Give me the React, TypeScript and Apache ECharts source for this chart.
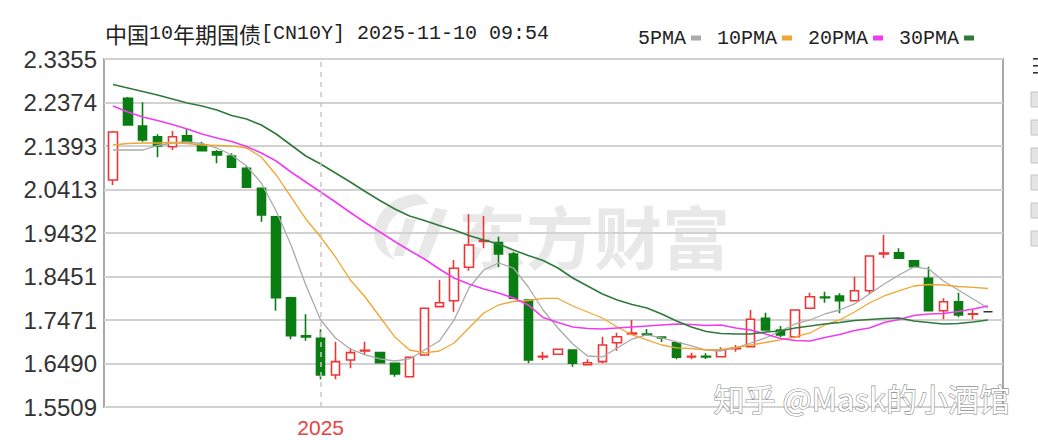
import React, { useEffect, useRef } from "react";
import * as echarts from "echarts";

const weeks = [
  "2024-09-27", "2024-10-04", "2024-10-11", "2024-10-18", "2024-10-25", "2024-11-01", "2024-11-08", "2024-11-15", "2024-11-22", "2024-11-29",
  "2024-12-06", "2024-12-13", "2024-12-20", "2024-12-27", "2025-01-03", "2025-01-10", "2025-01-17", "2025-01-24", "2025-01-31", "2025-02-07",
  "2025-02-14", "2025-02-21", "2025-02-28", "2025-03-07", "2025-03-14", "2025-03-21", "2025-03-28", "2025-04-04", "2025-04-11", "2025-04-18",
  "2025-04-25", "2025-05-02", "2025-05-09", "2025-05-16", "2025-05-23", "2025-05-30", "2025-06-06", "2025-06-13", "2025-06-20", "2025-06-27",
  "2025-07-04", "2025-07-11", "2025-07-18", "2025-07-25", "2025-08-01", "2025-08-08", "2025-08-15", "2025-08-22", "2025-08-29", "2025-09-05",
  "2025-09-12", "2025-09-19", "2025-09-26", "2025-10-03", "2025-10-10", "2025-10-17", "2025-10-24", "2025-10-31", "2025-11-07", "2025-11-10",
];

const yTicks = ["1.5509", "1.6490", "1.7471", "1.8451", "1.9432", "2.0413", "2.1393", "2.2374", "2.3355"];
const yMin = 1.5509;
const yMax = 2.3355;

const opens = [
  2.0627, 2.2469, 2.1845, 2.1603, 2.1378, 2.1626, 2.1416, 2.1265, 2.1168, 2.0891,
  2.044, 1.98, 1.7973, 1.7117, 1.7058, 1.6231, 1.6569, 1.6772, 1.6734, 1.6495,
  1.6192, 1.6682, 1.7771, 1.7906, 1.8659, 1.9241, 1.9214, 1.8959, 1.7922, 1.6637,
  1.6698, 1.6794, 1.6463, 1.6531, 1.6959, 1.7155, 1.7155, 1.7088, 1.6959, 1.6637,
  1.6652, 1.6643, 1.6824, 1.6869, 1.7509, 1.7245, 1.7094, 1.7735, 1.7989, 1.8012,
  1.7906, 1.8131, 1.8959, 1.8988, 1.8808, 1.8411, 1.768, 1.7883, 1.7599, 1.7658,
];
const closes = [
  2.1709, 2.1867, 2.1529, 2.1394, 2.1603, 2.1455, 2.1288, 2.1191, 2.0913, 2.0462,
  1.9838, 1.7973, 1.7117, 1.7088, 1.6231, 1.6531, 1.6734, 1.6788, 1.6508, 1.6253,
  1.663, 1.7735, 1.7861, 1.8636, 1.9162, 1.9263, 1.8959, 1.796, 1.6569, 1.6652,
  1.681, 1.6495, 1.6508, 1.6907, 1.7094, 1.7178, 1.7133, 1.7065, 1.663, 1.6652,
  1.6637, 1.6794, 1.684, 1.7487, 1.7245, 1.7133, 1.7696, 1.7996, 1.7973, 1.7906,
  1.8131, 1.8914, 1.8981, 1.8862, 1.8672, 1.768, 1.7883, 1.7584, 1.7613, 1.7658,
];
const lows = [
  2.0514, 2.1867, 2.1491, 2.1139, 2.1303, 2.1455, 2.1288, 2.1004, 2.0913, 2.0462,
  1.9687, 1.768, 1.7036, 1.7004, 1.6134, 1.6134, 1.6382, 1.6682, 1.6501, 1.6192,
  1.6192, 1.6682, 1.7771, 1.7658, 1.8582, 1.9087, 1.8659, 1.796, 1.6495, 1.6569,
  1.6698, 1.6418, 1.6463, 1.6495, 1.6779, 1.7133, 1.7133, 1.6975, 1.6585, 1.6585,
  1.6592, 1.6643, 1.6756, 1.6855, 1.7245, 1.7081, 1.7094, 1.7735, 1.7861, 1.7622,
  1.7906, 1.8057, 1.8869, 1.8862, 1.8672, 1.768, 1.7487, 1.7532, 1.7487, 1.7658,
];
const highs = [
  2.1732, 2.2498, 2.2379, 2.1657, 2.1732, 2.177, 2.1491, 2.1303, 2.1229, 2.0943,
  2.044, 1.98, 1.7996, 1.7599, 1.7261, 1.6982, 1.6833, 1.6982, 1.6749, 1.6495,
  1.663, 1.7735, 1.8373, 1.8824, 1.9854, 1.9815, 1.9349, 1.9004, 1.7922, 1.6756,
  1.681, 1.6794, 1.6585, 1.7094, 1.7184, 1.7471, 1.7268, 1.7088, 1.6959, 1.6734,
  1.672, 1.6855, 1.6907, 1.7696, 1.7635, 1.7335, 1.7696, 1.8086, 1.8109, 1.8073,
  1.8447, 1.8914, 1.9387, 1.9087, 1.8824, 1.8672, 1.796, 1.8086, 1.7712, 1.7658,
];

const ma5 = [
  2.1303, 2.1303, 2.1303, 2.1405, 2.1461, 2.1484, 2.145, 2.1348, 2.1191, 2.0943,
  2.0559, 1.9928, 1.9162, 1.826, 1.7471, 1.7065, 1.6817, 1.6682, 1.6592, 1.6546,
  1.6592, 1.6794, 1.6997, 1.7471, 1.8192, 1.8598, 1.8756, 1.8643, 1.8215, 1.7696,
  1.729, 1.693, 1.6659, 1.6637, 1.684, 1.7042, 1.7133, 1.7065, 1.6975, 1.6885,
  1.6794, 1.6772, 1.684, 1.6952, 1.7065, 1.7223, 1.7381, 1.7471, 1.7606, 1.7696,
  1.7832, 1.8057, 1.8282, 1.8485, 1.8666, 1.8621, 1.835, 1.8147, 1.7944, 1.7741,
];
const ma10 = [
  2.1416, 2.145, 2.1461, 2.1461, 2.1472, 2.145, 2.1416, 2.1405, 2.1394, 2.1348,
  2.1146, 2.074, 2.0244, 1.9748, 1.9342, 1.8891, 1.8373, 1.7989, 1.7538, 1.7088,
  1.6794, 1.6727, 1.6772, 1.6952, 1.729, 1.7629, 1.7809, 1.7888, 1.791, 1.7956,
  1.7956, 1.7786, 1.7651, 1.7516, 1.7313, 1.7133, 1.702, 1.6907, 1.684, 1.6828,
  1.6794, 1.6806, 1.6851, 1.6907, 1.6963, 1.702, 1.7088, 1.7178, 1.7358, 1.7471,
  1.7651, 1.7854, 1.8012, 1.8125, 1.8237, 1.8271, 1.826, 1.8226, 1.8204, 1.8181,
];
const ma20 = [
  2.2295, 2.216, 2.2047, 2.1969, 2.1878, 2.1777, 2.1664, 2.1574, 2.1495, 2.1382,
  2.1236, 2.1055, 2.0807, 2.0582, 2.0357, 2.0131, 1.9894, 1.9669, 1.9455, 1.9241,
  1.9038, 1.8846, 1.8621, 1.8418, 1.8282, 1.817, 1.8079, 1.7967, 1.7809, 1.7527,
  1.7414, 1.7313, 1.7279, 1.7268, 1.729, 1.7313, 1.7335, 1.7358, 1.7381, 1.7369,
  1.7347, 1.7358, 1.729, 1.7245, 1.7155, 1.7054, 1.7009, 1.6997, 1.7076, 1.7144,
  1.7234, 1.729, 1.7414, 1.7482, 1.7572, 1.7606, 1.7617, 1.7662, 1.7719, 1.7786,
];
const ma30 = [
  2.278, 2.2701, 2.2622, 2.2543, 2.2453, 2.2363, 2.2295, 2.2205, 2.2081, 2.2002,
  2.1867, 2.1664, 2.1416, 2.1168, 2.0988, 2.0785, 2.0582, 2.0368, 2.0165, 1.9973,
  1.9815, 1.9714, 1.9601, 1.95, 1.9376, 1.9274, 1.9184, 1.9049, 1.8925, 1.8812,
  1.8643, 1.8418, 1.8237, 1.8057, 1.7922, 1.782, 1.7741, 1.7606, 1.7448, 1.7313,
  1.7211, 1.7166, 1.7155, 1.7155, 1.72, 1.7223, 1.729, 1.7335, 1.7381, 1.7414,
  1.746, 1.7482, 1.7505, 1.7516, 1.7448, 1.7414, 1.7381, 1.7392, 1.7426, 1.7471,
];

const maNames = ["5PMA", "10PMA", "20PMA", "30PMA"];
const maSeries = [ma5, ma10, ma20, ma30];
const maColors = ["#aaaaaa", "#f0a632", "#f03cf0", "#2f7a3a"];
const maWidths = [1.3, 1.3, 1.6, 1.6];

const titleText = "{a|中国}{b|10}{a|年期国债}{b|[CN10Y] 2025-11-10 09:54}";
const watermark = "东方财富";
const credit = "知乎 @Mask的小酒馆";

const UP = "#ee3535";
const DOWN = "#0a7d12";
const MONO = "'Liberation Mono', 'Noto Sans CJK SC', monospace";
const CJK = "'Noto Sans CJK SC', sans-serif";

echarts.graphic.registerShape(
  "dfLogo",
  echarts.graphic.extendPath(
    "M44 0 C20 2 4 20 4 40 C4 52 12 62 24 66 C14 56 12 42 18 30 C24 18 38 10 56 10 C52 4 48 1 44 0 Z M62 14 L44 64 L56 64 L74 16 Z M34 24 L22 62 L32 62 L44 26 Z",
    {}
  )
);

export default function App() {
  const ref = useRef<HTMLDivElement>(null);

  useEffect(() => {
    if (!ref.current) return;
    const chart = echarts.init(ref.current, null, { renderer: "svg" });
    const lastIdx = weeks.length - 1;
    const candleData = weeks.map((_, i) => {
      const v = [opens[i], closes[i], lows[i], highs[i]];
      if (i === lastIdx) {
        return {
          value: v,
          itemStyle: { color: "#333", borderColor: "#333", color0: "#333", borderColor0: "#333", borderType: [4, 2] },
        };
      }
      return v;
    });

    const option: any = {
      animation: false,
      backgroundColor: "#ffffff",
      legend: {
        left: 633,
        top: 23,
        align: "right",
        icon: "rect",
        itemWidth: 10,
        itemHeight: 5,
        itemGap: 16,
        selectedMode: false,
        data: maNames,
        textStyle: { color: "#222", fontSize: 20, fontFamily: MONO },
      },
      grid: [
        { left: 104, top: 59, width: 899, height: 348, show: true, borderColor: "#a8a8a8", borderWidth: 2, backgroundColor: "transparent", outerBoundsMode: "none" },
        { left: 105.6, top: 59, width: 889.8, height: 348, outerBoundsMode: "none" },
      ],
      xAxis: [
        { gridIndex: 0, type: "value", show: false },
        {
          gridIndex: 1,
          type: "category",
          data: weeks,
          boundaryGap: true,
          axisLine: { show: false },
          axisTick: { show: false },
          splitLine: { show: false },
          axisLabel: {
            interval: (i: number) => i > 0 && weeks[i].slice(0, 4) !== weeks[i - 1].slice(0, 4),
            formatter: (v: string) => v.slice(0, 4),
            color: "#e8413c",
            fontSize: 21,
            fontFamily: "'Liberation Sans', Arial, sans-serif",
            margin: 10,
          },
        },
      ],
      yAxis: [
        {
          gridIndex: 0,
          type: "category",
          data: yTicks,
          boundaryGap: false,
          axisLine: { show: false },
          axisTick: { show: false },
          axisLabel: {
            interval: 0,
            color: "#333",
            fontSize: 24,
            fontFamily: "'Liberation Sans', Arial, sans-serif",
            margin: 7,
          },
          splitLine: { show: true, interval: 0, lineStyle: { color: "#d2d2d2", width: 2 } },
        },
        { gridIndex: 1, type: "value", min: yMin, max: yMax, show: false, splitLine: { show: false } },
      ],
      graphic: [
        {
          type: "text",
          z: 10,
          style: {
            x: 105,
            y: 33,
            text: titleText,
            verticalAlign: "middle",
            fill: "#222",
            rich: {
              a: { fontFamily: CJK, fontSize: 22, fill: "#222" },
              b: { fontFamily: MONO, fontSize: 20, fill: "#222" },
            },
          },
        },
        {
          type: "dfLogo",
          x: 370,
          y: 194,
          scaleX: 1.05,
          scaleY: 1.0,
          z: -5,
          silent: true,
          style: { fill: "#e8e8e8" },
        },
        {
          type: "text",
          z: -5,
          silent: true,
          style: {
            x: 458,
            y: 234,
            text: watermark,
            verticalAlign: "middle",
            font: `bold 68px ${CJK}`,
            fill: "#e8e8e8",
          },
        },
        {
          type: "text",
          z: 50,
          silent: true,
          style: {
            x: 1010,
            y: 397,
            text: credit,
            align: "right",
            verticalAlign: "middle",
            font: `31px ${CJK}`,
            fill: "#ffffff",
            stroke: "#8c8c8c",
            lineWidth: 1.2,
          },
        },
        // clipped fragment of a side panel at the right edge
        ...[58, 65, 72].map((yy) => ({
          type: "rect",
          shape: { x: 1033, y: yy, width: 6, height: 1.6 },
          style: { fill: "#333" },
        })),
        ...[92, 120, 148, 175, 203, 231].map((yy) => ({
          type: "rect",
          shape: { x: 1031, y: yy, width: 16, height: 15 },
          style: { fill: "#e4e4e4", stroke: "#c4c4c4", lineWidth: 1 },
        })),
      ],
      series: [
        {
          type: "candlestick",
          name: "CN10Y",
          xAxisIndex: 1,
          yAxisIndex: 1,
          barWidth: 9,
          z: 2,
          itemStyle: {
            color: "#ffffff",
            color0: DOWN,
            borderColor: UP,
            borderColor0: DOWN,
            borderWidth: 1.6,
          },
          data: candleData,
          markLine: {
            silent: true,
            symbol: ["none", "none"],
            label: { show: false },
            lineStyle: { color: "#c8c8c8", type: [5, 5], width: 1.5 },
            data: [{ xAxis: weeks[14] }],
          },
        },
        ...maNames.map((name, k) => ({
          type: "line",
          name,
          xAxisIndex: 1,
          yAxisIndex: 1,
          data: maSeries[k],
          color: maColors[k],
          showSymbol: false,
          symbol: "none",
          z: 3,
          lineStyle: { color: maColors[k], width: maWidths[k] },
        })),
      ],
    };

    chart.setOption(option);
    return () => chart.dispose();
  }, []);

  return (
    <div
      ref={ref}
      style={{ position: "fixed", left: 0, top: 0, width: 1038, height: 440, background: "#fff" }}
    />
  );
}
